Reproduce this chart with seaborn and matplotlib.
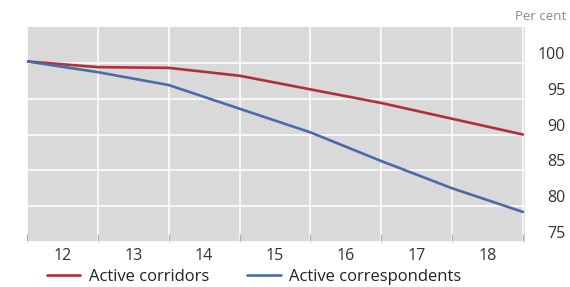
#load the required modules
import matplotlib
matplotlib.use("Agg")
import matplotlib.pyplot as plt
import pandas as pd
import seaborn as sb

# index values (start of each year)
years = [2012, 2013, 2014, 2015, 2016, 2017, 2018, 2019]
corridors = [100.2, 99.4, 99.3, 98.2, 96.3, 94.4, 92.2, 90.0]
correspondents = [100.2, 98.7, 96.9, 93.6, 90.3, 86.3, 82.5, 79.2]

series_names = ["Active corridors", "Active correspondents"]
series_colours = ["#b0303a", "#4a6ba8"]

year_labels = ["12", "13", "14", "15", "16", "17", "18"]
y_ticks = [75, 80, 85, 90, 95, 100]


def buildFrame():
    '''
    Puts the two series into one long data frame for seaborn.
    '''
    df_1 = pd.DataFrame({"year": years, "value": corridors, "series": series_names[0]})
    df_2 = pd.DataFrame({"year": years, "value": correspondents, "series": series_names[1]})
    return pd.concat([df_1, df_2], ignore_index=True)


def plotIndex(load_df):
    '''
    Draws both lines on a grey panel with white grid,
    y labels on the right and the legend under the x axis.
    '''
    sb.set_theme(style="darkgrid", rc={
        "axes.facecolor": "#d9d9d9",
        "grid.color": "white",
        "grid.linewidth": 1.1,
    })
    plt.rcParams["font.family"] = ["Open Sans", "DejaVu Sans"]

    fig = plt.figure(figsize=(5.7, 2.87), dpi=100)
    ax = fig.add_axes([27 / 570, 45 / 287, 498 / 570, 215 / 287])

    p = sb.lineplot(x="year", y="value", hue="series", data=load_df,
                    palette=series_colours, linewidth=1.9, ax=ax)

    ax.set_xlim(2012, 2019.03)
    ax.set_ylim(75, 105)
    ax.set_xlabel("")
    ax.set_ylabel("")
    for s in ax.spines.values():
        s.set_visible(False)

    # x axis: grid + small ticks at year starts, labels in the middle of each year
    ax.set_xticks(years)
    ax.set_xticklabels([])
    ax.set_xticks([y + 0.5 for y in years[:-1]], minor=True)
    ax.set_xticklabels(year_labels, minor=True)
    ax.tick_params(axis="x", which="major", direction="in", length=6,
                   width=0.9, color="#b0b0b0", bottom=True)
    ax.tick_params(axis="x", which="minor", length=0, pad=4,
                   labelsize=11.5, labelcolor="#333333")
    ax.grid(axis="x", which="minor", visible=False)

    # y axis: labels on the right, sitting just above each grid line
    ax.set_yticks(y_ticks)
    ax.yaxis.tick_right()
    ax.tick_params(axis="y", length=0, pad=29, labelsize=11.5, labelcolor="#333333")
    for lbl in ax.get_yticklabels():
        lbl.set_horizontalalignment("right")
        lbl.set_verticalalignment("bottom")

    fig.text(566 / 570, 1 - 17 / 287, "Per cent", ha="right", va="center",
             fontsize=9.5, color="#8a8a8a")

    handles, labels = ax.get_legend_handles_labels()
    ax.legend(handles, labels, loc="center left", ncol=2, frameon=False,
              bbox_to_anchor=(47 / 570, 10 / 287), bbox_transform=fig.transFigure,
              borderpad=0, borderaxespad=0, handlelength=2.0, handletextpad=0.5,
              columnspacing=2.3, fontsize=12, labelcolor="#222222")

    return fig


fig = plotIndex(buildFrame())
fig.savefig("out.png", dpi=100)
